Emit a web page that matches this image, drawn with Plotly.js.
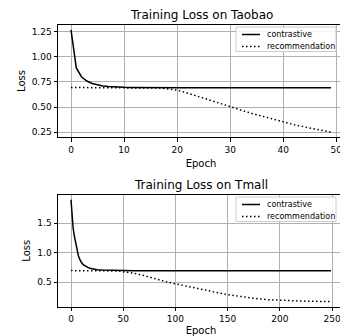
<!DOCTYPE html>
<html>
<head>
<meta charset="utf-8">
<script src="https://cdn.plot.ly/plotly-3.0.1.min.js"></script>
<style>
html,body{margin:0;padding:0;overflow:hidden;background:#fff;}
#chart{width:344px;height:336px;}
</style>
</head>
<body>
<div id="chart"></div>
<script>
// Taobao (top)
const taobaoEpochs = [0,1,2,3,4,5,6,7,8,9,10,11,12,13,14,15,16,17,18,19,20,21,22,23,24,25,26,27,28,29,30,31,32,33,34,35,36,37,38,39,40,41,42,43,44,45,46,47,48,49];
const taobaoContrastive = [1.27,0.89,0.80,0.76,0.735,0.72,0.71,0.705,0.70,0.698,0.697,0.696,0.695,0.695,0.694,0.694,0.694,0.694,0.693,0.693,0.693,0.693,0.693,0.693,0.693,0.693,0.693,0.693,0.693,0.693,0.693,0.693,0.693,0.693,0.693,0.693,0.693,0.693,0.693,0.693,0.693,0.693,0.693,0.693,0.693,0.693,0.693,0.693,0.693,0.693];
const taobaoRecommendation = [0.695,0.695,0.694,0.694,0.694,0.694,0.694,0.694,0.694,0.694,0.694,0.694,0.694,0.693,0.693,0.693,0.692,0.689,0.684,0.677,0.668,0.655,0.640,0.624,0.607,0.590,0.572,0.555,0.537,0.520,0.503,0.487,0.470,0.454,0.438,0.423,0.408,0.394,0.380,0.366,0.350,0.337,0.325,0.313,0.302,0.291,0.280,0.270,0.260,0.250];

// Tmall (bottom)
const tmallEpochs = [0,1,2,3,4,5,6,7,8,10,12,14,16,18,20,25,30,35,40,45,50,60,70,75,80,90,100,110,120,130,140,150,160,170,180,190,200,210,220,230,240,249];
const tmallContrastive = [1.895,1.62,1.42,1.30,1.20,1.10,1.02,0.95,0.90,0.83,0.79,0.765,0.748,0.735,0.726,0.71,0.703,0.699,0.697,0.695,0.694,0.693,0.693,0.693,0.693,0.693,0.693,0.693,0.693,0.693,0.693,0.693,0.693,0.693,0.693,0.693,0.693,0.693,0.693,0.693,0.693,0.693];
const tmallRecommendation = [0.694,0.694,0.694,0.694,0.694,0.694,0.694,0.694,0.694,0.694,0.694,0.694,0.694,0.694,0.694,0.694,0.693,0.693,0.692,0.688,0.675,0.65,0.61,0.585,0.555,0.51,0.47,0.43,0.395,0.36,0.322,0.285,0.26,0.235,0.215,0.20,0.19,0.183,0.178,0.174,0.171,0.168];

const seriesNames = ['contrastive','recommendation'];
const titles = ['Training Loss on Taobao','Training Loss on Tmall'];
const taobaoXTicks = [0,10,20,30,40,50];
const tmallXTicks = [0,50,100,150,200,250];
const taobaoYTicks = [0.25,0.50,0.75,1.00,1.25];
const tmallYTicks = [0.5,1.0,1.5];

const FONT = 'DejaVu Sans, Arial, sans-serif';
const solid = {color:'#000', width:1.5};
const dotted = {color:'#000', width:1.5, dash:'1.5px,2.5px'};
const styles = [solid, dotted];

const traces = [
  {x:taobaoEpochs, y:taobaoContrastive, name:seriesNames[0], mode:'lines', line:solid, xaxis:'x', yaxis:'y', showlegend:false},
  {x:taobaoEpochs, y:taobaoRecommendation, name:seriesNames[1], mode:'lines', line:dotted, xaxis:'x', yaxis:'y', showlegend:false},
  {x:tmallEpochs, y:tmallContrastive, name:seriesNames[0], mode:'lines', line:solid, xaxis:'x2', yaxis:'y2', showlegend:false},
  {x:tmallEpochs, y:tmallRecommendation, name:seriesNames[1], mode:'lines', line:dotted, xaxis:'x2', yaxis:'y2', showlegend:false}
];

function xax(range, ticks, anchor){
  return {range:range, tickvals:ticks, anchor:anchor, showgrid:true, gridcolor:'#b0b0b0', gridwidth:1,
    showline:true, mirror:true, linecolor:'#000', linewidth:1, ticks:'outside', ticklen:3.5, tickcolor:'#000',
    tickfont:{family:FONT,size:9,color:'#000'}, zeroline:false,
    title:{text:'Epoch', font:{family:FONT,size:10,color:'#000'}, standoff:6}};
}
function yax(range, ticks, fmt, anchor, domain){
  return {range:range, tickvals:ticks, tickformat:fmt, anchor:anchor, domain:domain, showgrid:true, gridcolor:'#b0b0b0', gridwidth:1,
    showline:true, mirror:true, linecolor:'#000', linewidth:1, ticks:'outside', ticklen:3.5, tickcolor:'#000',
    tickfont:{family:FONT,size:9,color:'#000'}, zeroline:false,
    title:{text:'Loss', font:{family:FONT,size:10,color:'#000'}, standoff:4}};
}

// compact legend boxes (paper coords), one per subplot
const W = 286, H = 336, L = 58;
const px = v => (v - L) / W;
const py = v => 1 - v / H;
const shapes = [], annotations = [];
function legendBox(topPx){
  shapes.push({type:'rect', xref:'paper', yref:'paper', x0:px(236), x1:px(336), y0:py(topPx+24.5), y1:py(topPx),
    fillcolor:'rgba(255,255,255,0.85)', line:{color:'#cccccc', width:1}, layer:'above'});
  seriesNames.forEach((nm, i) => {
    const rowY = topPx + 7.5 + i * 12;
    shapes.push({type:'line', xref:'paper', yref:'paper', x0:px(242), x1:px(260), y0:py(rowY), y1:py(rowY),
      line:styles[i], layer:'above'});
    annotations.push({text:nm, xref:'paper', yref:'paper', x:px(265), y:py(rowY), xanchor:'left', yanchor:'middle',
      showarrow:false, font:{family:FONT, size:8, color:'#000'}});
  });
}
legendBox(27);
legendBox(197);

annotations.push({text:titles[0], x:0.5, y:py(15), xref:'paper', yref:'paper', xanchor:'center', yanchor:'middle', showarrow:false, font:{family:FONT,size:12,color:'#000'}});
annotations.push({text:titles[1], x:0.5, y:py(185), xref:'paper', yref:'paper', xanchor:'center', yanchor:'middle', showarrow:false, font:{family:FONT,size:12,color:'#000'}});

const layout = {
  width:344, height:336,
  margin:{l:58, r:0, t:0, b:0},
  paper_bgcolor:'#fff', plot_bgcolor:'#fff',
  showlegend:false,
  font:{family:FONT, color:'#000'},
  xaxis: xax([-2.45,51.45], taobaoXTicks, 'y'),
  yaxis: yax([0.199,1.321], taobaoYTicks, '.2f', 'x', [0.5914,0.9265]),
  xaxis2: xax([-12.45,261.45], tmallXTicks, 'y2'),
  yaxis2: yax([0.082,1.981], tmallYTicks, '.1f', 'x2', [0.0872,0.4205]),
  shapes: shapes,
  annotations: annotations
};

Plotly.newPlot('chart', traces, layout, {displayModeBar:false, staticPlot:true});
</script>
</body>
</html>
